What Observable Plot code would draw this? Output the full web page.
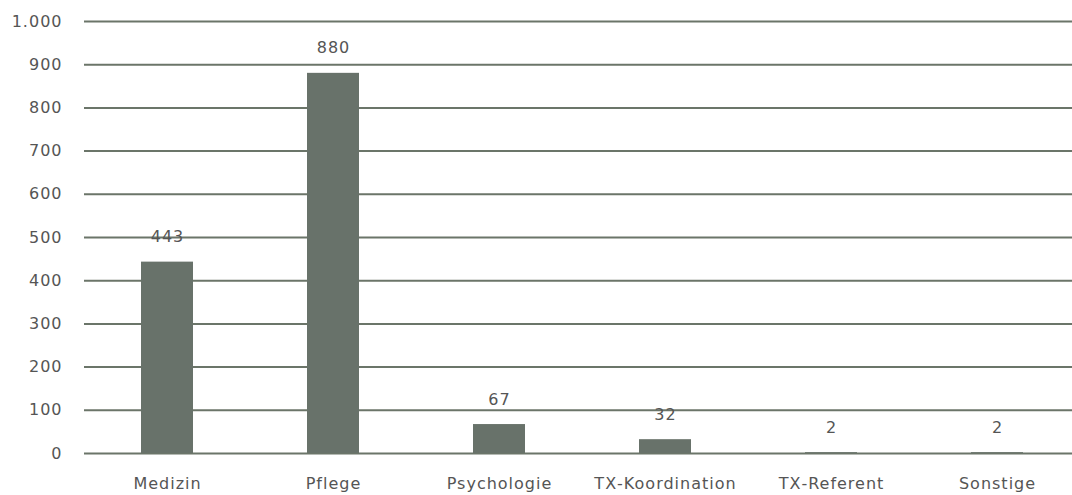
<!DOCTYPE html>
<html>
<head>
<meta charset="utf-8">
<script src="https://cdn.jsdelivr.net/npm/d3@7"></script>
<script src="https://cdn.jsdelivr.net/npm/@observablehq/plot@0.6"></script>
<style>
  html, body { margin: 0; padding: 0; background: #fff; }
  #chart svg { display: block; }
  #chart svg text { letter-spacing: 1px; }
</style>
</head>
<body>
<div id="chart"></div>
<script>
const categories = ["Medizin", "Pflege", "Psychologie", "TX\u2011Koordination", "TX\u2011Referent", "Sonstige"];
const values = [443, 880, 67, 32, 2, 2];
const yTicks = [0, 100, 200, 300, 400, 500, 600, 700, 800, 900, 1000];

const data = categories.map((c, i) => ({category: c, value: values[i]}));
const de = d3.formatLocale({decimal: ",", thousands: ".", grouping: [3], currency: ["", " €"]});
const fmt = de.format(",d");

const barColor = "#68726a";
const gridColor = "#6b7569";
const textColor = "#555555";

const chart = Plot.plot({
  width: 1072,
  height: 495,
  marginLeft: 84,
  marginRight: 0,
  marginTop: 21,
  marginBottom: 42,
  style: {fontFamily: "DejaVu Sans, sans-serif", fontSize: "16px", color: textColor, background: "#fff"},
  x: {domain: categories, range: [84, 1080], paddingInner: 0.687, paddingOuter: 0.3435, label: null},
  y: {domain: [0, 1000], label: null},
  marks: [
    Plot.ruleY(yTicks, {stroke: gridColor, strokeWidth: 2}),
    Plot.barY(data, {x: "category", y: "value", fill: barColor}),
    Plot.text(data, {x: "category", y: "value", text: d => fmt(d.value), dy: -25, fill: textColor, fontSize: 16}),
    Plot.axisY({ticks: yTicks, tickFormat: fmt, tickSize: 0, tickPadding: 22, fill: textColor, fontSize: 16, label: null}),
    Plot.axisX({tickSize: 0, tickPadding: 24, fill: textColor, fontSize: 16, label: null})
  ]
});
document.getElementById("chart").appendChild(chart);
</script>
</body>
</html>
